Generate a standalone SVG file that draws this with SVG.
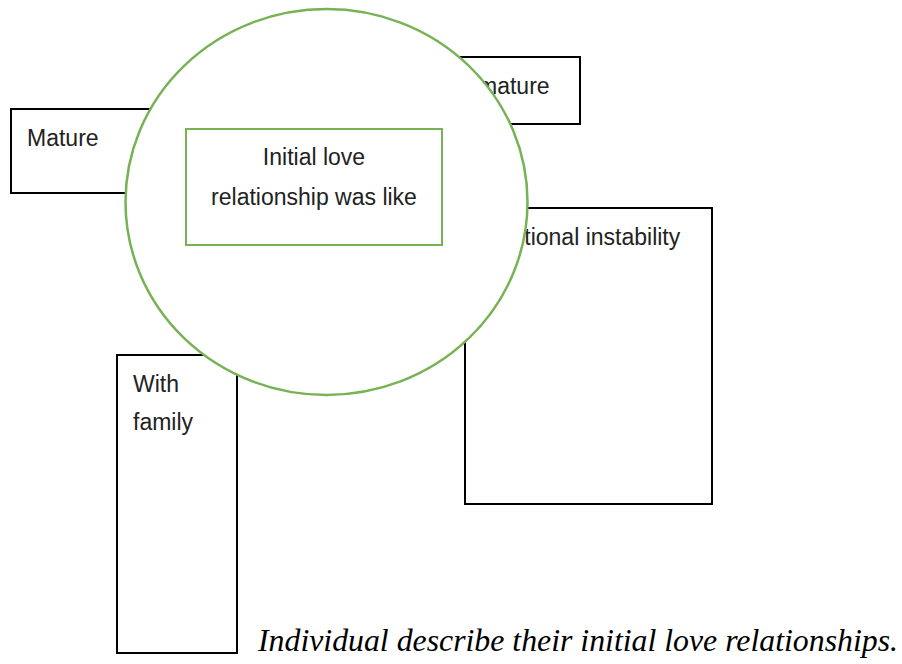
<svg xmlns="http://www.w3.org/2000/svg" width="902" height="664" viewBox="0 0 902 664">
<style>
.box{fill:#fff;stroke:#000;stroke-width:2}
.lbl{font-family:"Liberation Sans",Arial,sans-serif;font-size:23px;fill:#222}
.cap{font-family:"Liberation Serif","Times New Roman",serif;font-size:31px;font-style:italic;fill:#000}
</style>
<rect width="902" height="664" fill="#fff"/>
<g id="node-mature-left">
<rect class="box" x="11" y="109" width="160" height="84"/>
<text class="lbl" x="27" y="146">Mature</text>
</g>
<g id="node-mature-right">
<rect class="box" x="440" y="57" width="140" height="67"/>
<text class="lbl" x="478" y="94">mature</text>
</g>
<g id="node-emotional">
<rect class="box" x="465" y="208" width="247" height="296"/>
<text class="lbl" x="477" y="245">Emotional instability</text>
</g>
<g id="node-family">
<rect class="box" x="117" y="355" width="120" height="298"/>
<text class="lbl" x="133" y="392">With</text>
<text class="lbl" x="133" y="430">family</text>
</g>
<g id="node-center">
<ellipse cx="326.5" cy="202" rx="201" ry="193" fill="#fff" stroke="#77b255" stroke-width="2.5"/>
<rect x="186" y="129" width="256" height="116" fill="#fff" stroke="#77b255" stroke-width="2"/>
<text class="lbl" x="314" y="165" text-anchor="middle">Initial love</text>
<text class="lbl" x="314" y="205" text-anchor="middle">relationship was like</text>
</g>
<g id="connectors"></g>
<text class="cap" x="258" y="651" textLength="640" lengthAdjust="spacingAndGlyphs">Individual describe their initial love relationships.</text>
</svg>
